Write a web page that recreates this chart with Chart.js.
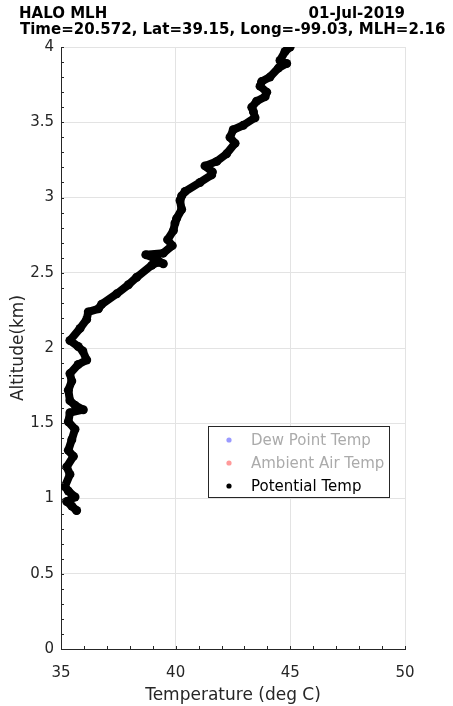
<!DOCTYPE html>
<html>
<head>
<meta charset="utf-8">
<script src="https://cdn.jsdelivr.net/npm/chart.js@4.4.1/dist/chart.umd.min.js"></script>
<style>
html,body{margin:0;padding:0;background:#fff;}
#wrap{width:453px;height:706px;position:relative;}
</style>
</head>
<body>
<div id="wrap"><canvas id="c" width="453" height="706"></canvas></div>
<script>
// ---- texts ----
const titleLeft = 'HALO MLH';
const titleRight = '01-Jul-2019';
const titleLine2 = 'Time=20.572, Lat=39.15, Long=-99.03, MLH=2.16';
const xAxisTitle = 'Temperature (deg C)';
const yAxisTitle = 'Altitude(km)';
const seriesNames = ['Dew Point Temp', 'Ambient Air Temp', 'Potential Temp'];

// ---- tick labels ----
const xTickLabels = [35, 40, 45, 50];
const yTickLabels = [0, 0.5, 1, 1.5, 2, 2.5, 3, 3.5, 4];

// ---- series (no dew point / ambient samples fall inside the plotted range) ----
const dewPointTemp = [];
const ambientAirTemp = [];
const potentialAltitude = [
  0.92,0.95,0.98,1.01,1.05,1.08,1.16,1.21,1.28,1.32,
  1.39,1.46,1.51,1.57,1.59,1.62,1.65,1.72,1.78,1.83,
  1.89,1.92,1.98,2.01,2.05,2.13,2.19,2.24,2.26,2.29,
  2.36,2.42,2.47,2.55,2.57,2.56,2.60,2.62,2.63,2.68,
  2.72,2.78,2.83,2.86,2.92,2.98,3.01,3.04,3.10,3.15,
  3.17,3.21,3.24,3.29,3.36,3.40,3.45,3.48,3.53,3.57,
  3.60,3.64,3.67,3.70,3.74,3.77,3.80,3.86,3.89,3.91,
  3.97,4.00
];
const potentialTemp = [
  35.68,35.47,35.25,35.61,35.32,35.17,35.39,35.25,35.54,35.32,
  35.47,35.61,35.32,35.39,35.97,35.61,35.39,35.32,35.47,35.39,
  35.75,36.12,35.95,35.75,35.39,35.83,36.12,36.19,36.63,36.77,
  37.43,37.94,38.30,38.96,39.24,39.46,39.03,38.70,39.46,39.85,
  39.65,39.90,39.97,40.04,40.26,40.19,40.26,40.41,41.06,41.57,
  41.60,41.28,41.79,42.22,42.59,42.37,42.51,42.95,43.46,43.39,
  43.32,43.53,43.90,43.97,43.68,43.75,44.11,44.48,44.84,44.55,
  44.77,44.99
];

const FONT = '"DejaVu Sans", Verdana, sans-serif';
const AXIS_COLOR = '#262626';
const GRID_COLOR = '#e3e3e3';

function isLabelled(v, list) {
  return list.some(t => Math.abs(t - v) < 1e-6);
}
function fmt(v) {
  return String(Math.round(v * 10) / 10);
}

const titlePlugin = {
  id: 'matTitle',
  afterDraw(chart) {
    const ctx = chart.ctx;
    ctx.save();
    ctx.fillStyle = '#000';
    ctx.font = 'bold 15px ' + FONT;
    ctx.textBaseline = 'alphabetic';
    ctx.textAlign = 'left';
    ctx.fillText(titleLeft, 19, 18);
    ctx.textAlign = 'right';
    ctx.fillText(titleRight, chart.chartArea.right, 18);
    ctx.textAlign = 'left';
    ctx.fillText(titleLine2, 20, 34);
    ctx.restore();
  }
};

const inwardTicks = {
  id: 'inwardTicks',
  afterDatasetsDraw(chart) {
    const ctx = chart.ctx;
    const area = chart.chartArea;
    const xs = chart.scales.x, ys = chart.scales.y;
    ctx.save();
    ctx.strokeStyle = AXIS_COLOR;
    ctx.lineWidth = 1;
    ctx.beginPath();
    xs.ticks.forEach(t => {
      const p = Math.round(xs.getPixelForValue(t.value)) + 0.5;
      ctx.moveTo(p, area.bottom);
      ctx.lineTo(p, area.bottom - 3);
    });
    ys.ticks.forEach(t => {
      const p = Math.round(ys.getPixelForValue(t.value)) + 0.5;
      ctx.moveTo(area.left, p);
      ctx.lineTo(area.left + 3, p);
    });
    ctx.stroke();
    ctx.restore();
  }
};

const boxLegend = {
  id: 'boxLegend',
  afterDatasetsDraw(chart) {
    const ctx = chart.ctx;
    const x0 = 208, y0 = 426, w = 181, h = 71;
    ctx.save();
    ctx.fillStyle = '#fff';
    ctx.fillRect(x0, y0, w, h);
    ctx.strokeStyle = AXIS_COLOR;
    ctx.lineWidth = 1;
    ctx.strokeRect(x0 + 0.5, y0 + 0.5, w, h);
    ctx.font = '15px ' + FONT;
    ctx.textBaseline = 'middle';
    ctx.textAlign = 'left';
    chart.data.datasets.forEach((ds, i) => {
      const y = y0 + 14 + i * 23;
      ctx.fillStyle = ds.legendMarker;
      ctx.beginPath();
      ctx.arc(x0 + 21, y, 2.6, 0, Math.PI * 2);
      ctx.fill();
      ctx.fillStyle = ds.legendText;
      ctx.fillText(ds.label, x0 + 43, y + 1);
    });
    ctx.restore();
  }
};

const potentialPoints = potentialTemp.map((t, i) => ({ x: t, y: potentialAltitude[i] }));

new Chart(document.getElementById('c'), {
  type: 'scatter',
  data: {
    datasets: [
      { label: seriesNames[0], data: dewPointTemp, backgroundColor: '#9a9aff', borderColor: '#9a9aff', legendMarker: '#9a9aff', legendText: '#ababab' },
      { label: seriesNames[1], data: ambientAirTemp, backgroundColor: '#ff9a9a', borderColor: '#ff9a9a', legendMarker: '#ff9a9a', legendText: '#ababab' },
      { label: seriesNames[2], data: potentialPoints, showLine: true,
        borderColor: '#000', backgroundColor: '#000', borderWidth: 8,
        borderJoinStyle: 'round', borderCapStyle: 'round',
        pointRadius: 4.5, pointBorderWidth: 0, pointBackgroundColor: '#000',
        legendMarker: '#000', legendText: '#000' }
    ]
  },
  options: {
    responsive: false,
    animation: false,
    events: [],
    layout: { padding: { top: 47, right: 48, left: 0, bottom: 0 } },
    plugins: { legend: { display: false }, tooltip: { enabled: false }, title: { display: false } },
    scales: {
      x: {
        type: 'linear', min: 35, max: 50,
        afterFit: s => { s.height = 57; },
        border: { display: true, color: AXIS_COLOR, width: 1 },
        grid: {
          drawTicks: false,
          color: c => isLabelled(c.tick.value, xTickLabels) ? GRID_COLOR : 'rgba(0,0,0,0)'
        },
        ticks: {
          stepSize: 1, autoSkip: false, maxRotation: 0, padding: 15,
          color: AXIS_COLOR, font: { family: FONT, size: 15 },
          callback: v => isLabelled(v, xTickLabels) ? fmt(v) : ''
        },
        title: { display: true, text: xAxisTitle, color: AXIS_COLOR, font: { family: FONT, size: 17 }, padding: { top: 4, bottom: 0 } }
      },
      y: {
        type: 'linear', min: 0, max: 4,
        afterFit: s => { s.width = 61; },
        border: { display: true, color: AXIS_COLOR, width: 1 },
        grid: {
          drawTicks: false,
          color: c => isLabelled(c.tick.value, yTickLabels) ? GRID_COLOR : 'rgba(0,0,0,0)'
        },
        ticks: {
          stepSize: 0.1, autoSkip: false, padding: 7,
          color: AXIS_COLOR, font: { family: FONT, size: 15 },
          callback: v => isLabelled(v, yTickLabels) ? fmt(v) : ''
        },
        title: { display: true, text: yAxisTitle, color: AXIS_COLOR, font: { family: FONT, size: 17 }, padding: { top: 8, bottom: 0 } }
      }
    }
  },
  plugins: [titlePlugin, inwardTicks, boxLegend]
});
</script>
</body>
</html>
